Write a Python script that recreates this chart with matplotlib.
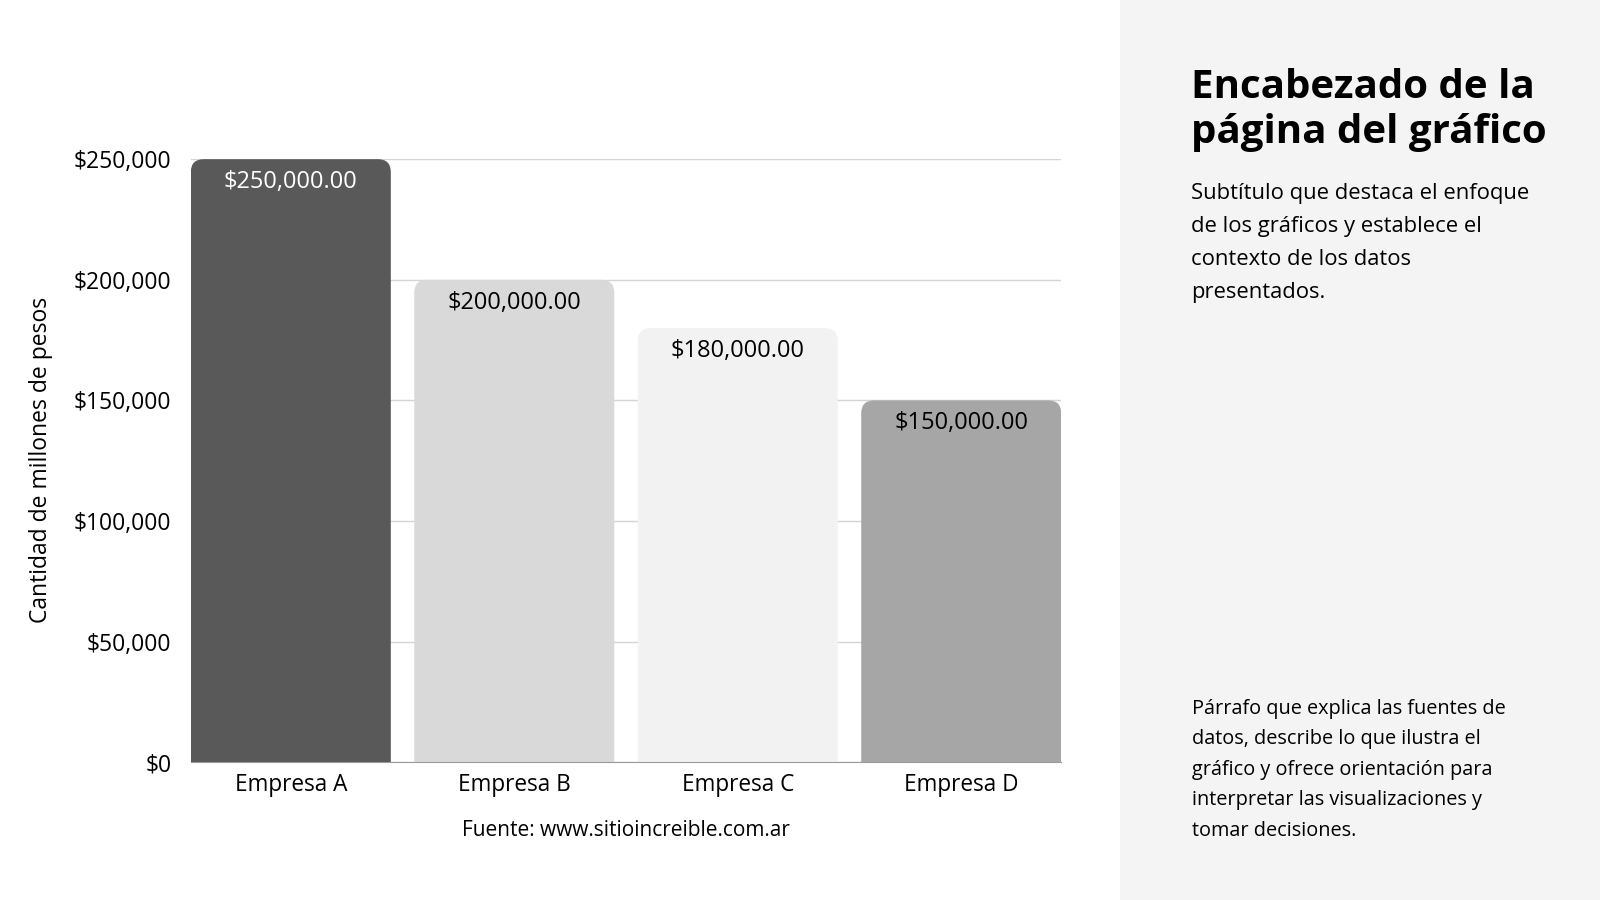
import matplotlib.pyplot as plt
from matplotlib.patches import PathPatch, Rectangle
from matplotlib.path import Path

plt.rcParams['font.family'] = ['Open Sans', 'DejaVu Sans']

empresas = ['Empresa A', 'Empresa B', 'Empresa C', 'Empresa D']
valores = [250000, 200000, 180000, 150000]
colores = ['#595959', '#d9d9d9', '#f2f2f2', '#a6a6a6']
colores_texto = ['white', 'black', 'black', 'black']
yticks = [0, 50000, 100000, 150000, 200000, 250000]

W, H = 1568.0, 882.0

fig = plt.figure(figsize=(16, 9), dpi=100)
fig.patches.append(Rectangle((1098 / W, 0), 1 - 1098 / W, 1, transform=fig.transFigure,
                             facecolor='#f4f4f4', edgecolor='none', zorder=0))

ax = fig.add_axes([187 / W, 1 - 747 / H, (1040 - 187) / W, (747 - 156) / H])
ax.set_facecolor('none')
ancho = 196 / 219
ax.set_xlim(-ancho / 2, 3 + ancho / 2)
ax.set_ylim(0, 250000)

barras = ax.bar(range(len(empresas)), valores, width=ancho, color=colores, zorder=2)

# esquinas redondeadas solo arriba
fig.canvas.draw()
px_x = (ax.get_xlim()[1] - ax.get_xlim()[0]) / ax.bbox.width
px_y = (ax.get_ylim()[1] - ax.get_ylim()[0]) / ax.bbox.height
radio = 13
for b, c in zip(barras, colores):
    x0, w, h = b.get_x(), b.get_width(), b.get_height()
    x1 = x0 + w
    rx, ry = radio * px_x, radio * px_y
    verts = [(x0, 0), (x0, h - ry), (x0, h), (x0 + rx, h), (x1 - rx, h), (x1, h),
             (x1, h - ry), (x1, 0), (x0, 0)]
    codes = [Path.MOVETO, Path.LINETO, Path.CURVE3, Path.CURVE3, Path.LINETO,
             Path.CURVE3, Path.CURVE3, Path.LINETO, Path.CLOSEPOLY]
    b.set_visible(False)
    ax.add_patch(PathPatch(Path(verts, codes), facecolor=c, edgecolor='none', zorder=2))

for i, v in enumerate(valores):
    ax.text(i, v - 23 * px_y, '${:,.2f}'.format(v), ha='center', va='center',
            fontsize=17, color=colores_texto[i], zorder=3)

ax.set_yticks(yticks)
ax.set_yticklabels(['${:,}'.format(t) for t in yticks], fontsize=16.5)
ax.set_xticks(range(len(empresas)))
ax.set_xticklabels(empresas, fontsize=16.3)
ax.tick_params(length=0, pad=14)
ax.tick_params(axis='x', pad=8)
ax.yaxis.grid(True, color='#d4d4d4', linewidth=1, zorder=1)
ax.set_axisbelow(True)
for s in ['top', 'right', 'left']:
    ax.spines[s].set_visible(False)
ax.spines['bottom'].set_color('#9a9a9a')
ax.spines['bottom'].set_zorder(3)

fig.text(40 / W, 1 - 451 / H, 'Cantidad de millones de pesos', rotation=90,
         ha='center', va='center', fontsize=16.5)
fig.text(613 / W, 1 - 814 / H, 'Fuente: www.sitioincreible.com.ar', ha='center',
         va='center', fontsize=15)

fig.text(1167 / W, 1 - 67 / H, 'Encabezado de la\npágina del gráfico', ha='left', va='top',
         fontsize=29, fontweight='bold', linespacing=1.18)
fig.text(1167 / W, 1 - 179 / H,
         'Subtítulo que destaca el enfoque\nde los gráficos y establece el\n'
         'contexto de los datos\npresentados.',
         ha='left', va='top', fontsize=15.8, linespacing=1.75)
fig.text(1168 / W, 1 - 685 / H,
         'Párrafo que explica las fuentes de\ndatos, describe lo que ilustra el\n'
         'gráfico y ofrece orientación para\ninterpretar las visualizaciones y\n'
         'tomar decisiones.',
         ha='left', va='top', fontsize=14.3, linespacing=1.7)

fig.savefig('out.png', dpi=100)
